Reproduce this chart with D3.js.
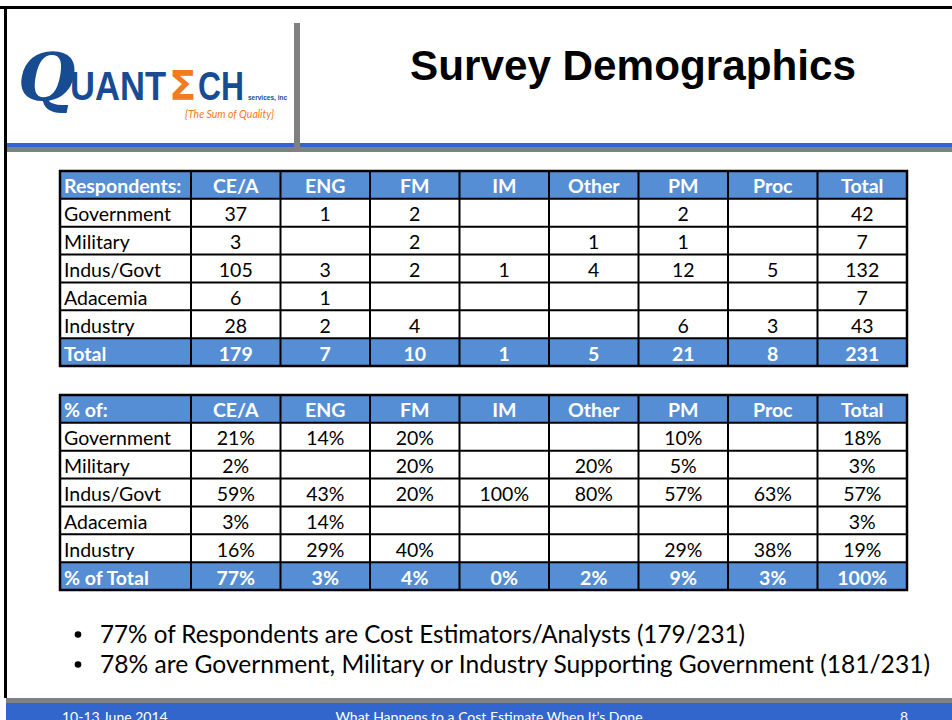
<!DOCTYPE html>
<html>
<head>
<meta charset="utf-8">
<script src="https://cdn.jsdelivr.net/npm/d3@7"></script>
<style>
  html, body { margin: 0; padding: 0; background: #fff; }
  svg { display: block; }
</style>
</head>
<body>
<div id="chart"></div>
<script>
// ---- data ----
const columns = ['CE/A', 'ENG', 'FM', 'IM', 'Other', 'PM', 'Proc', 'Total'];
const groups = ['Government', 'Military', 'Indus/Govt', 'Adacemia', 'Industry'];

// respondent counts per group (null = blank cell)
const counts = [
  [37, 1, 2, null, null, 2, null, 42],
  [3, null, 2, null, 1, 1, null, 7],
  [105, 3, 2, 1, 4, 12, 5, 132],
  [6, 1, null, null, null, null, null, 7],
  [28, 2, 4, null, null, 6, 3, 43]
];
const countTotals = [179, 7, 10, 1, 5, 21, 8, 231];

// percent of column
const percents = [
  [21, 14, 20, null, null, 10, null, 18],
  [2, null, 20, null, 20, 5, null, 3],
  [59, 43, 20, 100, 80, 57, 63, 57],
  [3, 14, null, null, null, null, null, 3],
  [16, 29, 40, null, null, 29, 38, 19]
];
const percentTotals = [77, 3, 4, 0, 2, 9, 3, 100];

const bullets = [
  '77% of Respondents are Cost Estimators/Analysts (179/231)',
  '78% are Government, Military or Industry Supporting Government (181/231)'
];
const bulletWidths = [645, 830];
const footer = ['10-13 June 2014', 'What Happens to a Cost Estimate When It\u2019s Done', '8'];

// ---- layout ----
const W = 952, H = 720;
const BLUE = '#3366cc', GRAY = '#808080', HEAD = '#558ed5';
const FONT = 'Lato, "Open Sans", sans-serif';
const FS = 19.5;

const svg = d3.select('#chart').append('svg').attr('width', W).attr('height', H);

// slide frame
svg.append('rect').attr('x', 0).attr('y', 6).attr('width', W).attr('height', 3).attr('fill', '#000');
svg.append('rect').attr('x', 4).attr('y', 6).attr('width', 3).attr('height', 692).attr('fill', '#000');

// header rules
svg.append('rect').attr('x', 7).attr('y', 143).attr('width', W - 7).attr('height', 4).attr('fill', BLUE);
svg.append('rect').attr('x', 7).attr('y', 147).attr('width', W - 7).attr('height', 5).attr('fill', GRAY);
svg.append('rect').attr('x', 294).attr('y', 23).attr('width', 6).attr('height', 129).attr('fill', GRAY);

// logo — one text run so the letters stay together
const logo = svg.append('g');
const word = logo.append('text').attr('x', 18).attr('y', 100)
  .attr('font-family', '"Liberation Sans", Arial, sans-serif').attr('font-weight', 'bold')
  .attr('font-size', 41).attr('fill', '#174c93');
word.append('tspan')
  .attr('font-family', '"DejaVu Serif", serif').attr('font-style', 'italic')
  .attr('font-size', 66).text('Q');
word.append('tspan').attr('x', 70).attr('textLength', 96).attr('lengthAdjust', 'spacingAndGlyphs').text('UANT');
word.append('tspan').attr('x', 169).attr('fill', '#f47a20')
  .attr('font-family', '"DejaVu Sans", sans-serif').attr('font-size', 40).text('\u03a3');
word.append('tspan').attr('x', 198).attr('textLength', 46).attr('lengthAdjust', 'spacingAndGlyphs').text('CH');
word.append('tspan').attr('x', 248).attr('font-size', 6.5).text('services, inc');
logo.append('text').attr('x', 185).attr('y', 118)
  .attr('font-family', FONT).attr('font-style', 'italic')
  .attr('font-size', 11).attr('fill', '#f47a20')
  .attr('textLength', 89).attr('lengthAdjust', 'spacingAndGlyphs').text('{The Sum of Quality}');

// title
svg.append('text').attr('x', 410).attr('y', 80)
  .attr('font-family', '"Liberation Sans", Arial, sans-serif').attr('font-weight', 'bold')
  .attr('font-size', 42).attr('fill', '#000')
  .attr('textLength', 446).attr('lengthAdjust', 'spacingAndGlyphs')
  .text('Survey Demographics');

// ---- tables ----
const x = d3.scaleBand().domain(columns).range([191, 907]);
const LEFT = 60;

function drawTable(top, corner, totalLabel, body, totals, fmt) {
  const y = d3.scaleBand().domain(d3.range(groups.length + 2)).range([top, top + 195]);
  const g = svg.append('g');
  const bottom = top + 195;

  // header and total bands
  [0, groups.length + 1].forEach(r => {
    g.append('rect').attr('x', LEFT).attr('y', y(r)).attr('width', 907 - LEFT)
      .attr('height', y.bandwidth()).attr('fill', HEAD);
  });

  // grid lines
  g.selectAll('line.h').data(d3.range(1, groups.length + 2)).join('line')
    .attr('x1', LEFT).attr('x2', 907)
    .attr('y1', d => y(d)).attr('y2', d => y(d))
    .attr('stroke', '#000').attr('stroke-width', 2);
  g.selectAll('line.v').data(columns).join('line')
    .attr('x1', d => x(d)).attr('x2', d => x(d))
    .attr('y1', top).attr('y2', bottom)
    .attr('stroke', '#000').attr('stroke-width', 2);
  g.append('rect').attr('x', LEFT).attr('y', top).attr('width', 907 - LEFT).attr('height', 195)
    .attr('fill', 'none').attr('stroke', '#000').attr('stroke-width', 2.5);

  const base = y.bandwidth() - 5.5;

  // header row
  g.append('text').attr('x', LEFT + 4).attr('y', y(0) + base)
    .attr('font-family', FONT).attr('font-weight', 'bold').attr('font-size', FS)
    .attr('fill', '#fff').text(corner);
  g.selectAll('text.ch').data(columns).join('text')
    .attr('x', d => x(d) + x.bandwidth() / 2).attr('y', y(0) + base)
    .attr('text-anchor', 'middle')
    .attr('font-family', FONT).attr('font-weight', 'bold').attr('font-size', FS)
    .attr('fill', '#fff').text(d => d);

  // body rows
  groups.forEach((name, i) => {
    const ry = y(i + 1) + base;
    g.append('text').attr('x', LEFT + 4).attr('y', ry)
      .attr('font-family', FONT).attr('font-size', FS).attr('fill', '#000').text(name);
    g.selectAll(null).data(body[i].map((v, j) => ({ v, c: columns[j] })).filter(d => d.v !== null))
      .join('text')
      .attr('x', d => x(d.c) + x.bandwidth() / 2).attr('y', ry)
      .attr('text-anchor', 'middle')
      .attr('font-family', FONT).attr('font-size', FS).attr('fill', '#000')
      .text(d => fmt(d.v));
  });

  // total row
  const ty = y(groups.length + 1) + base;
  g.append('text').attr('x', LEFT + 4).attr('y', ty)
    .attr('font-family', FONT).attr('font-weight', 'bold').attr('font-size', FS)
    .attr('fill', '#fff').text(totalLabel);
  g.selectAll(null).data(totals.map((v, j) => ({ v, c: columns[j] }))).join('text')
    .attr('x', d => x(d.c) + x.bandwidth() / 2).attr('y', ty)
    .attr('text-anchor', 'middle')
    .attr('font-family', FONT).attr('font-weight', 'bold').attr('font-size', FS)
    .attr('fill', '#fff').text(d => fmt(d.v));
}

drawTable(171, 'Respondents:', 'Total', counts, countTotals, v => String(v));
drawTable(395, '% of:', '% of Total', percents, percentTotals, v => v + '%');

// ---- bullets ----
bullets.forEach((t, i) => {
  const by = 643 + i * 30;
  svg.append('circle').attr('cx', 78).attr('cy', by - 8.5).attr('r', 3.3).attr('fill', '#000');
  svg.append('text').attr('x', 100).attr('y', by)
    .attr('font-family', FONT).attr('font-size', 24.5).attr('fill', '#000')
    .attr('textLength', bulletWidths[i]).attr('lengthAdjust', 'spacingAndGlyphs').text(t);
});

// ---- footer ----
svg.append('rect').attr('x', 6).attr('y', 698).attr('width', W - 6).attr('height', 5).attr('fill', GRAY);
svg.append('rect').attr('x', 6).attr('y', 703).attr('width', W - 6).attr('height', 17).attr('fill', BLUE);
const fy = 722;
svg.append('text').attr('x', 62).attr('y', fy).attr('font-family', FONT).attr('font-size', 14)
  .attr('fill', '#fff').text(footer[0]);
svg.append('text').attr('x', 489).attr('y', fy).attr('text-anchor', 'middle')
  .attr('font-family', FONT).attr('font-size', 14).attr('fill', '#fff').text(footer[1]);
svg.append('text').attr('x', 904).attr('y', fy).attr('text-anchor', 'middle')
  .attr('font-family', FONT).attr('font-size', 14).attr('fill', '#fff').text(footer[2]);
</script>
</body>
</html>
